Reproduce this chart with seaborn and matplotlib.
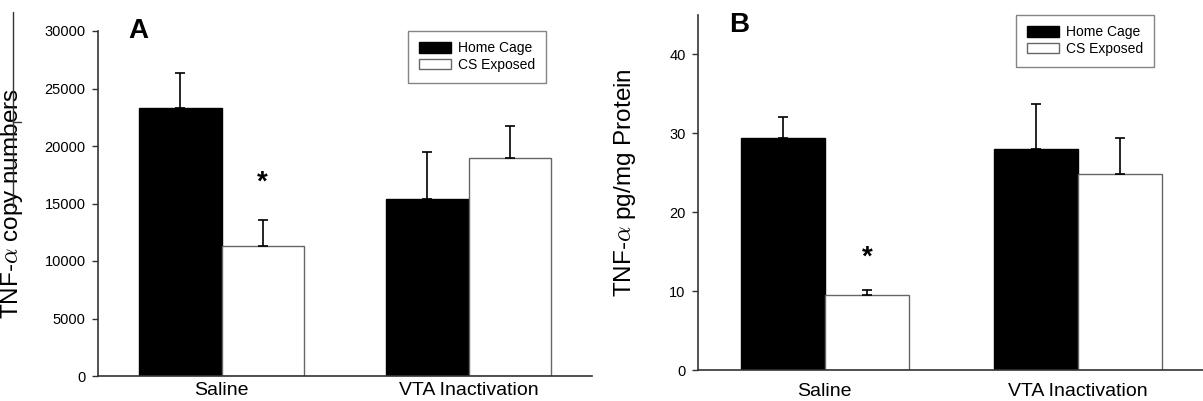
import pandas as pd
import matplotlib
matplotlib.use('Agg')
import matplotlib.pyplot as plt
from matplotlib.lines import Line2D
from matplotlib.patches import Patch
import seaborn as sns

# Data
treatments = ['Saline', 'VTA Inactivation']
conditions = ['Home Cage', 'CS Exposed']

# Panel A: TNF-alpha copy numbers (mean, SEM)
a_home = [23330, 15390]
a_cs = [11300, 18985]
a_home_sem = [2990, 4090]
a_cs_sem = [2240, 2755]

# Panel B: TNF-alpha pg/mg protein (mean, SEM)
b_home = [29.45, 27.97]
b_cs = [9.47, 24.80]
b_home_sem = [2.65, 5.70]
b_cs_sem = [0.67, 4.55]

sns.set_theme(style='ticks')
plt.rcParams['font.family'] = ['Liberation Sans', 'DejaVu Sans']
plt.rcParams['mathtext.fontset'] = 'cm'
plt.rcParams['text.color'] = 'black'
plt.rcParams['axes.labelcolor'] = 'black'
plt.rcParams['xtick.labelcolor'] = 'black'
plt.rcParams['ytick.labelcolor'] = 'black'

fig = plt.figure(figsize=(12.03, 4.01), dpi=100)
axA = fig.add_axes([98 / 1203, 25 / 401, 494 / 1203, 345 / 401])
axB = fig.add_axes([698 / 1203, 31 / 401, 507 / 1203, 355 / 401])

palette = {'Home Cage': 'black', 'CS Exposed': 'white'}


def panel(ax, home, cs, home_sem, cs_sem, ylim, yticks, ylabel, labelpos,
          star_off, xpad):
    df = pd.DataFrame({
        'treatment': treatments * 2,
        'condition': [conditions[0]] * 2 + [conditions[1]] * 2,
        'value': home + cs,
    })
    sns.barplot(data=df, x='treatment', y='value', hue='condition',
                hue_order=conditions, order=treatments, palette=palette,
                errorbar=None, width=0.664, gap=0, ax=ax, legend=False)

    # edges and one-sided error bars
    for cont, sems in zip(ax.containers, [home_sem, cs_sem]):
        for bar, s in zip(cont, sems):
            if bar.get_facecolor()[0] > 0.5:
                bar.set_edgecolor('#666666')
            else:
                bar.set_edgecolor('black')
            bar.set_linewidth(1.0)
            x = bar.get_x() + bar.get_width() / 2
            h = bar.get_height()
            ax.errorbar(x, h, yerr=[[0], [s]], fmt='none', ecolor='black',
                        elinewidth=1.2, capsize=3.4, capthick=1.2, zorder=3)

    # significance star over saline / CS exposed
    bar = ax.containers[1][0]
    ax.annotate('*', xy=(bar.get_x() + bar.get_width() / 2, cs[0] + cs_sem[0]),
                xytext=(0, star_off), textcoords='offset points',
                ha='center', va='center', fontsize=20, fontweight='bold')

    ax.set_xlim(-0.5, 1.5)
    ax.set_ylim(*ylim)
    ax.set_yticks(yticks)
    ax.set_xlabel('')
    ax.set_ylabel(ylabel, fontsize=17.5)
    ax.yaxis.set_label_coords(*labelpos)
    sns.despine(ax=ax)
    for sp in ('left', 'bottom'):
        ax.spines[sp].set_color('#333333')
        ax.spines[sp].set_linewidth(1.2)
    ax.tick_params(axis='y', length=4, width=1, color='#333333', labelsize=10.5, pad=5)
    ax.tick_params(axis='x', length=0, labelsize=14, pad=xpad)

    handles = [Patch(facecolor='black', edgecolor='black'),
               Patch(facecolor='white', edgecolor='#666666')]
    leg = ax.legend(handles, conditions, loc='upper left', bbox_to_anchor=(0.628, 1.0),
                    fontsize=10, frameon=True, fancybox=False, borderaxespad=0,
                    borderpad=0.75, labelspacing=0.2, handlelength=2.3,
                    handleheight=0.75, handletextpad=0.55)
    leg.get_frame().set_edgecolor('#666666')
    leg.get_frame().set_linewidth(1.0)


panel(axA, a_home, a_cs, a_home_sem, a_cs_sem, (0, 30000),
      [0, 5000, 10000, 15000, 20000, 25000, 30000],
      'TNF-$\\alpha$ copy numbers', (-0.148, 0.5), 27, 4)
panel(axB, b_home, b_cs, b_home_sem, b_cs_sem, (0, 45),
      [0, 10, 20, 30, 40],
      'TNF-$\\alpha$ pg/mg Protein', (-0.118, 0.528), 23, 9)

# panel letters
fig.text(138 / 1203, 1 - 31 / 401, 'A', ha='center', va='center',
         fontsize=20, fontweight='bold')
fig.text(739 / 1203, 1 - 25 / 401, 'B', ha='center', va='center',
         fontsize=20, fontweight='bold')

# stray rule at the top left of the original figure
fig.add_artist(Line2D([13 / 1203, 13 / 1203], [1 - 12 / 401, 1 - 207 / 401],
                      color='#333333', lw=1))
fig.add_artist(Line2D([13 / 1203, 21 / 1203], [1 - 122 / 401, 1 - 122 / 401],
                      color='#333333', lw=1))

fig.savefig('out.png', dpi=100)
